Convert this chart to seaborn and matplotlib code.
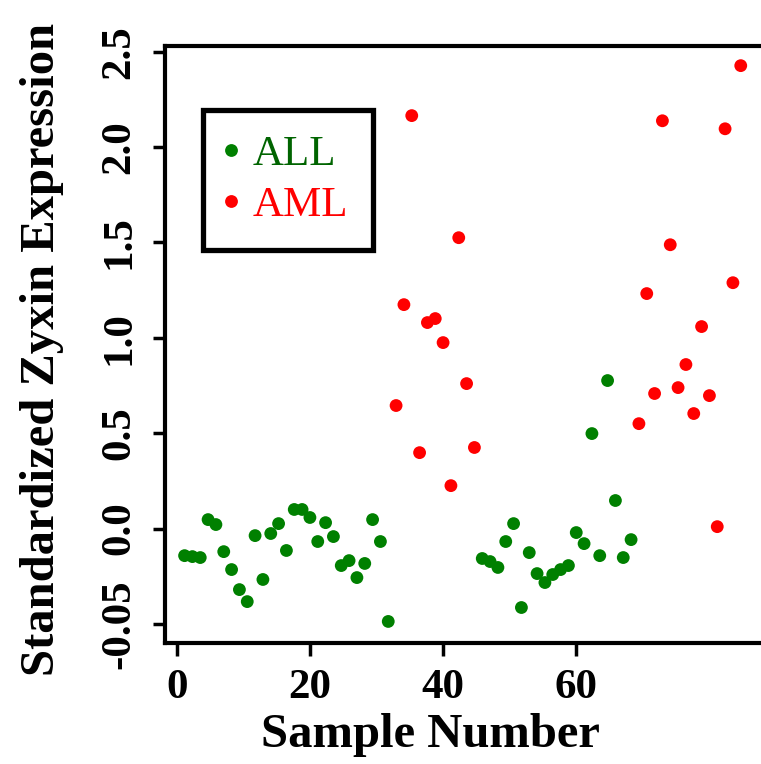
import numpy as np
import pandas as pd
import matplotlib
matplotlib.use("Agg")
import matplotlib.pyplot as plt
import seaborn as sns

# ---- data ----
all_samples_a = list(range(1, 28))
all_values_a = [-0.142, -0.147, -0.152, 0.047, 0.021, -0.121, -0.215, -0.320, -0.383,
                -0.037, -0.267, -0.026, 0.026, -0.115, 0.100, 0.100, 0.058, -0.068,
                0.031, -0.042, -0.194, -0.168, -0.257, -0.183, 0.047, -0.068, -0.487]
aml_samples_a = list(range(28, 39))
aml_values_a = [0.645, 1.174, 2.165, 0.398, 1.080, 1.101, 0.975, 0.225, 1.525, 0.760, 0.425]
all_samples_b = list(range(39, 59))
all_values_b = [-0.157, -0.173, -0.204, -0.068, 0.026, -0.414, -0.126, -0.236, -0.283,
                -0.241, -0.215, -0.194, -0.021, -0.079, 0.498, -0.142, 0.776, 0.147,
                -0.152, -0.058]
aml_samples_b = list(range(59, 73))
aml_values_b = [0.550, 1.232, 0.708, 2.138, 1.488, 0.739, 0.860, 0.603, 1.059, 0.697,
                0.010, 2.096, 1.289, 2.427]

x_tick_pos = [0, 17, 34, 51]
x_tick_labels = ["0", "20", "40", "60"]
y_tick_pos = [-0.5, 0.0, 0.5, 1.0, 1.5, 2.0, 2.5]
y_tick_labels = ["-0.05", "0.0", "0.5", "1.0", "1.5", "2.0", "2.5"]

df = pd.DataFrame({
    "sample": all_samples_a + aml_samples_a + all_samples_b + aml_samples_b,
    "value": all_values_a + aml_values_a + all_values_b + aml_values_b,
    "type": (["ALL"] * len(all_samples_a) + ["AML"] * len(aml_samples_a)
             + ["ALL"] * len(all_samples_b) + ["AML"] * len(aml_samples_b)),
})

sns.set_theme(style="white")
plt.rcParams["font.family"] = ["Liberation Serif", "DejaVu Serif"]
plt.rcParams["text.color"] = "black"
plt.rcParams["axes.labelcolor"] = "black"
plt.rcParams["xtick.color"] = "black"
plt.rcParams["ytick.color"] = "black"

W, H = 761, 764
fig = plt.figure(figsize=(W / 100, H / 100), dpi=100)
left = 165 / W
bottom = (H - 643) / H
top = (H - 46) / H
right = 776 / W
ax = fig.add_axes([left, bottom, right - left, top - bottom])

sns.scatterplot(data=df, x="sample", y="value", hue="type",
                palette={"ALL": "#008000", "AML": "#ff0000"},
                s=85, edgecolor="none", ax=ax, legend=True)

ax.set_xlim(-1.5, 76.5)
ax.set_ylim(-0.60, 2.53)
ax.set_xticks(x_tick_pos)
ax.set_xticklabels(x_tick_labels)
ax.set_yticks(y_tick_pos)
ax.set_yticklabels(y_tick_labels, rotation=90, va="center")

for sp in ax.spines.values():
    sp.set_linewidth(3)
    sp.set_color("black")
ax.tick_params(axis="both", which="both", direction="out", length=9, width=2.5,
               color="black", labelcolor="black", labelsize=31, bottom=True, left=True)
for lab in ax.get_xticklabels() + ax.get_yticklabels():
    lab.set_fontweight("bold")
ax.tick_params(axis="x", pad=10)
ax.tick_params(axis="y", pad=10)

ax.set_xlabel("Sample Number", fontsize=35, fontweight="bold")
ax.set_ylabel("Standardized Zyxin Expression", fontsize=35, fontweight="bold")
ax.xaxis.set_label_coords(0.435, -0.118)
ax.yaxis.set_label_coords(-0.165, 0.491)

leg = ax.legend(loc="upper left", bbox_to_anchor=(0.062, 0.893), borderaxespad=0,
                fontsize=31, frameon=True, fancybox=False, markerscale=1.0,
                handletextpad=0.42, handlelength=0.15, borderpad=0.58, labelspacing=0.28)
leg.get_frame().set_edgecolor("black")
leg.get_frame().set_linewidth(3.8)
leg.get_frame().set_alpha(1)
text_colors = {"ALL": "#006400", "AML": "#ff0000"}
for t in leg.get_texts():
    t.set_color(text_colors.get(t.get_text(), "black"))

fig.savefig("out.png", dpi=100)
